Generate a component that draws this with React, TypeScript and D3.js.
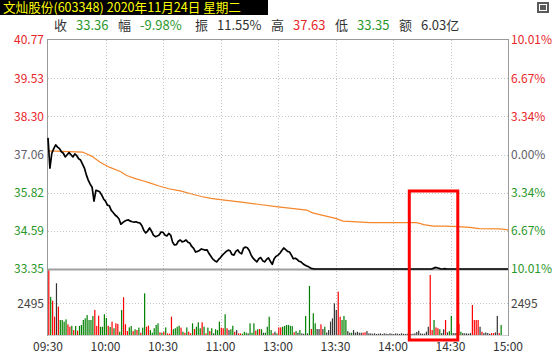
import React from 'react';
import * as d3 from 'd3';

const W = 554;
const H = 357;

const prevClose = 37.06;
const priceTicks = [40.77, 39.53, 38.3, 37.06, 35.82, 34.59, 33.35];
const pctTicks = ['10.01%', '6.67%', '3.34%', '0.00%', '3.34%', '6.67%', '10.01%'];
const timeLabels = ['09:30', '10:00', '10:30', '11:00', '13:00', '13:30', '14:00', '14:30', '15:00'];
const volTick = 2495;

// minute price, index 0..240
const price = [
  37.60, 36.62, 37.10, 37.25, 37.37, 37.30, 37.25, 37.15, 37.10, 36.98,
  37.05, 37.12, 37.05, 36.98, 37.08, 37.02, 36.92, 36.88, 36.75, 36.62,
  36.40, 36.23, 36.10, 36.00, 35.55, 35.90, 35.88, 35.85, 35.75, 35.62,
  35.55, 35.42, 35.40, 35.25, 35.18, 35.10, 35.05, 34.98, 34.80, 34.85,
  34.90, 34.93, 34.94, 34.90, 34.88, 34.87, 34.88, 34.85, 34.84, 34.75,
  34.60, 34.52, 34.58, 34.68, 34.58, 34.45, 34.40, 34.42, 34.45, 34.55,
  34.54, 34.45, 34.42, 34.50, 34.45, 34.22, 34.13, 34.14, 34.25, 34.29,
  34.23, 34.25, 34.29, 34.22, 34.19, 34.08, 34.02, 33.90, 33.92, 33.95,
  34.00, 33.98, 33.96, 33.97, 33.85, 33.76, 33.67, 33.62, 33.58, 33.66,
  33.72, 33.80, 33.86, 33.92, 33.96, 33.94, 33.82, 33.80, 33.92, 33.97,
  33.88, 33.84, 34.02, 34.06, 34.04, 33.95, 33.80, 33.70, 33.64, 33.58,
  33.68, 33.72, 33.62, 33.58, 33.66, 33.71, 33.60, 33.50, 33.68, 33.76,
  33.80, 33.86, 33.95, 34.03, 33.98, 33.92, 33.90, 33.80, 33.68, 33.70,
  33.66, 33.60, 33.58, 33.52, 33.48, 33.45, 33.42, 33.38, 33.36, 33.35,
  33.35, 33.35, 33.35, 33.35, 33.35, 33.35, 33.35, 33.35, 33.35, 33.35,
  33.35, 33.35, 33.35, 33.35, 33.35, 33.35, 33.35, 33.35, 33.35, 33.35,
  33.35, 33.35, 33.35, 33.35, 33.35, 33.35, 33.35, 33.35, 33.35, 33.35,
  33.35, 33.35, 33.35, 33.35, 33.35, 33.35, 33.35, 33.35, 33.35, 33.35,
  33.35, 33.35, 33.35, 33.35, 33.35, 33.35, 33.35, 33.35, 33.35, 33.35,
  33.35, 33.35, 33.35, 33.35, 33.35, 33.35, 33.35, 33.35, 33.35, 33.35,
  33.35, 33.37, 33.40, 33.39, 33.37, 33.35, 33.35, 33.36, 33.35, 33.35,
  33.35, 33.35, 33.35, 33.35, 33.35, 33.35, 33.35, 33.35, 33.35, 33.35,
  33.35, 33.35, 33.35, 33.35, 33.35, 33.35, 33.35, 33.35, 33.35, 33.35,
  33.35, 33.35, 33.35, 33.35, 33.35, 33.35, 33.35, 33.35, 33.35, 33.35,
  33.35,
];

// average-price line breakpoints
const avgMinute = [0, 18, 23, 27, 32, 38, 41, 46, 50, 53, 58, 63, 69, 75, 80, 85, 91, 103, 119, 135, 138, 150, 154, 168, 192, 194, 196, 201, 207, 214, 220, 225, 236, 240];
const avgPrice = [37.18, 37.14, 37.0, 36.82, 36.65, 36.5, 36.38, 36.27, 36.2, 36.14, 36.04, 35.95, 35.88, 35.78, 35.7, 35.64, 35.59, 35.5, 35.37, 35.26, 35.17, 34.99, 34.9, 34.85, 34.85, 34.83, 34.79, 34.74, 34.74, 34.72, 34.7, 34.66, 34.65, 34.62];

// minute volume, index 0..240
const volume = [
  5100, 3000, 2700, 1440, 4070, 2230, 1180, 1180, 1050, 1230,
  840, 650, 730, 390, 710, 340, 710, 790, 1180, 1310,
  1570, 1180, 1180, 1500, 1970, 710, 1520, 650, 650, 1630,
  1340, 730, 630, 1050, 530, 920, 870, 260, 1970, 2970,
  840, 310, 600, 710, 310, 450, 390, 580, 180, 580,
  3280, 650, 730, 390, 180, 530, 790, 920, 210, 180,
  260, 600, 130, 100, 1440, 450, 530, 650, 730, 580,
  260, 180, 600, 260, 130, 920, 470, 650, 1000, 530,
  1000, 650, 130, 580, 310, 530, 130, 450, 390, 1050,
  580, 530, 1630, 530, 390, 450, 730, 260, 390, 130,
  130, 100, 260, 180, 130, 920, 180, 920, 340, 450,
  470, 450, 180, 180, 650, 1440, 390, 130, 260, 130,
  600, 600, 650, 710, 790, 790, 730, 700, 210, 310,
  180, 390, 130, 100, 1500, 130, 3860, 470, 1710, 920,
  470, 470, 840, 470, 650, 200, 390, 1050, 1310, 2490,
  1970, 3410, 1440, 1180, 1500, 1180, 310, 180, 180, 390,
  180, 260, 180, 180, 180, 210, 310, 130, 130, 100,
  130, 80, 100, 130, 80, 130, 100, 80, 130, 100,
  80, 130, 100, 80, 130, 100, 80, 100, 130, 80,
  100, 130, 240, 340, 130, 100, 100, 260, 650, 4720,
  390, 1180, 600, 530, 450, 150, 450, 1180, 200, 300,
  1500, 150, 150, 200, 870, 260, 150, 130, 130, 100,
  150, 2360, 1180, 1180, 1180, 650, 260, 150, 200, 150,
  100, 150, 150, 200, 1500, 150, 790, 0, 0, 0,
  0,
];

// 1 = up, -1 = down, 0 = flat
const direction = [
  1, -1, 1, 1, 0, 1, -1, -1, -1, -1,
  1, 1, -1, 1, -1, 1, -1, -1, -1, -1,
  -1, -1, -1, -1, 1, 1, 1, -1, -1, -1,
  -1, 1, -1, 1, -1, 1, 1, -1, -1, 1,
  1, 1, -1, -1, 1, -1, 1, -1, 1, -1,
  -1, 1, 1, -1, -1, -1, -1, -1, 1, -1,
  1, -1, 1, 1, 1, -1, -1, -1, -1, 1,
  -1, 1, -1, 1, 1, -1, 1, -1, -1, -1,
  1, -1, 1, -1, 1, -1, 0, -1, -1, -1,
  1, 1, -1, 1, 0, -1, -1, 1, 0, 1,
  1, -1, -1, -1, 0, -1, -1, -1, 1, -1,
  1, -1, 0, -1, -1, -1, -1, 1, 0, -1,
  1, 1, -1, -1, -1, -1, -1, -1, 1, -1,
  0, -1, 0, 0, -1, 0, -1, 1, -1, -1,
  0, 0, 1, 0, -1, 0, 0, 0, 0, 0,
  0, 1, 1, -1, -1, -1, 0, 0, -1, 0,
  0, 0, 0, 0, 1, 1, 0, 0, 0, 0,
  0, 0, 0, 0, 0, 0, 0, 0, 0, 0,
  0, 0, 0, 0, 0, 0, 0, 0, 0, 0,
  0, 0, 0, 0, 0, 0, 0, 0, 0, 1,
  1, -1, 1, 1, -1, 0, 0, 1, 0, -1,
  -1, 0, 0, -1, 1, -1, 0, 0, 0, 0,
  0, 1, 1, 1, 1, 0, 1, 0, 0, 0,
  0, 1, 1, 0, 0, 1, -1, 0, 0, 0,
  0,
];

const L = 48;
const R = 508;
const T = 40;
const PB = 269;
const VB = 335;

const RED = '#e8262a';
const GREEN = '#2a972a';
const GRAY = '#5f6068';
const FONT = "'Noto Sans CJK SC', 'Noto Sans', sans-serif";

export default function App() {
  const x = d3.scaleLinear().domain([0, 240]).range([L, R]);
  const yP = d3.scaleLinear().domain([33.35, 40.77]).range([PB, T]);
  const yV = d3.scaleLinear().domain([0, 5190]).range([VB, PB]);

  const priceLine = d3
    .line<number>()
    .x((_, i) => x(i))
    .y((d) => yP(d))(price) as string;

  const avgLine = d3
    .line<number>()
    .x((_, i) => x(avgMinute[i]))
    .y((d) => yP(d))(avgPrice) as string;

  const tickColor = (v: number) => (v > prevClose + 0.001 ? RED : v < prevClose - 0.001 ? GREEN : GRAY);
  const barColor = (d: number) => (d > 0 ? '#ff0000' : d < 0 ? '#008000' : '#333333');

  const gridTimes = timeLabels.map((_, k) => k * 30);

  return (
    <svg width={W} height={H} style={{ position: 'absolute', left: 0, top: 0, background: '#fff' }} fontFamily={FONT}>
      <rect x={0} y={0} width={W} height={H} fill="#ffffff" />
      {/* header */}
      <rect x={0} y={0} width={268} height={15} fill="#000000" />
      <text x={3} y={12.2} fill="#ffff00" fontSize={12.6}>
        文灿股份(603348) 2020年11月24日 星期二
      </text>
      <rect x={537} y={2} width={12} height={11} fill="#5a5a5a" />
      <rect x={539.5} y={4.5} width={7} height={6} fill="none" stroke="#ffffff" strokeWidth={1} />
      <text y={30} fontSize={13} fill="#333">
        <tspan x={54}>收</tspan>
        <tspan x={76} fill={GREEN}>33.36</tspan>
        <tspan x={118}>幅</tspan>
        <tspan x={140} fill={GREEN}>-9.98%</tspan>
        <tspan x={195}>振</tspan>
        <tspan x={217}>11.55%</tspan>
        <tspan x={271}>高</tspan>
        <tspan x={293} fill={RED}>37.63</tspan>
        <tspan x={335}>低</tspan>
        <tspan x={357} fill={GREEN}>33.35</tspan>
        <tspan x={399}>额</tspan>
        <tspan x={421}>6.03亿</tspan>
      </text>

      {/* horizontal grid */}
      {priceTicks.slice(1, -1).map((p) => (
        <line key={'h' + p} x1={L} x2={R} y1={Math.round(yP(p)) + 0.5} y2={Math.round(yP(p)) + 0.5} stroke="#c4c4c4" strokeDasharray="1,2" />
      ))}
      <line x1={L} x2={R} y1={Math.round(yV(volTick)) + 0.5} y2={Math.round(yV(volTick)) + 0.5} stroke="#c4c4c4" strokeDasharray="1,2" />
      {/* vertical grid */}
      {gridTimes.slice(1, -1).map((m) => (
        <line key={'v' + m} x1={Math.round(x(m)) + 0.5} x2={Math.round(x(m)) + 0.5} y1={T} y2={VB} stroke="#c4c4c4" strokeDasharray="1,2" />
      ))}

      {/* volume bars */}
      {volume.map((v, i) =>
        v > 0 ? (
          <rect key={'b' + i} x={x(i) + 0.2} y={yV(v)} width={1.2} height={VB - yV(v)} fill={barColor(direction[i])} />
        ) : null
      )}

      {/* frame */}
      <line x1={L} x2={R} y1={39.5} y2={39.5} stroke="#9a9a9a" />
      <line x1={L - 0.5} x2={L - 0.5} y1={39} y2={VB + 1} stroke="#9a9a9a" />
      <line x1={R + 0.5} x2={R + 0.5} y1={39} y2={VB + 1} stroke="#9a9a9a" />
      <line x1={L} x2={R} y1={PB + 0.5} y2={PB + 0.5} stroke="#a0a0a0" strokeWidth={2} />
      <line x1={L} x2={R} y1={VB + 0.5} y2={VB + 0.5} stroke="#d0d0d0" />

      {/* lines */}
      <path d={avgLine} fill="none" stroke="#f5862a" strokeWidth={1.2} />
      <path d={priceLine} fill="none" stroke="#000000" strokeWidth={1.7} strokeLinejoin="round" />

      {/* left axis */}
      {priceTicks.map((p) => (
        <text key={'l' + p} x={44} y={yP(p)} dy="0.36em" textAnchor="end" fontSize={12} fill={tickColor(p)}>
          {p.toFixed(2)}
        </text>
      ))}
      <text x={44} y={yV(volTick)} dy="0.36em" textAnchor="end" fontSize={12} fill="#444">
        {volTick}
      </text>
      {/* right axis */}
      {priceTicks.map((p, k) => (
        <text key={'r' + k} x={511} y={yP(p)} dy="0.36em" fontSize={12} fill={tickColor(p)}>
          {pctTicks[k]}
        </text>
      ))}
      <text x={511} y={yV(volTick)} dy="0.36em" fontSize={12} fill="#444">
        {volTick}
      </text>
      {/* time axis */}
      {timeLabels.map((t, k) => (
        <text key={'t' + t} x={x(gridTimes[k])} y={347} dy="0.36em" textAnchor="middle" fontSize={12} fill="#333">
          {t}
        </text>
      ))}

      {/* highlight box */}
      <rect x={x(188.5)} y={191} width={x(213.8) - x(188.5)} height={149} fill="none" stroke="#ff0000" strokeWidth={3} />
    </svg>
  );
}
